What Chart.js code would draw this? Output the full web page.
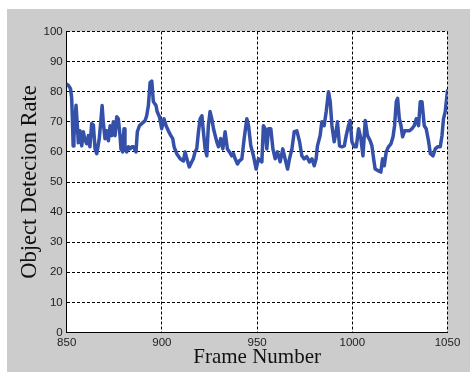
<!DOCTYPE html>
<html>
<head>
<meta charset="utf-8">
<script src="https://cdn.jsdelivr.net/npm/chart.js@4.4.0/dist/chart.umd.min.js"></script>
<style>
  html, body { margin: 0; padding: 0; background: #ffffff; }
  #wrap { position: absolute; left: 0; top: 0; width: 470px; height: 372px; }
</style>
</head>
<body>
<div id="wrap"><canvas id="c" width="470" height="372"></canvas></div>
<script>
const frames = [850.0,851.0,852.0,852.6,853.0,853.4,853.8,854.9,855.6,856.1,857.0,857.9,858.7,859.6,860.5,861.4,862.2,863.1,864.0,864.9,865.8,867.1,867.9,868.6,869.2,870.1,871.0,871.9,872.8,873.7,874.5,875.4,876.3,877.1,878.0,878.5,879.4,880.1,880.6,881.5,882.4,883.3,884.2,885.0,886.4,887.1,888.2,889.4,891.2,892.0,892.9,893.8,894.7,895.5,896.9,897.5,898.7,899.9,901.1,902.2,903.4,904.7,905.7,906.4,907.8,909.6,911.3,912.2,913.1,914.4,915.7,916.5,917.4,918.3,919.2,920.1,921.0,921.8,922.7,923.6,924.4,925.3,926.2,927.1,928.8,929.7,930.9,932.0,933.2,934.4,935.5,936.7,937.6,938.5,939.7,940.7,942.0,943.2,944.6,945.5,946.7,948.1,949.5,950.7,952.5,953.3,954.2,955.1,956.0,957.2,958.3,959.5,960.7,962.1,963.5,964.7,966.0,967.0,968.3,969.5,970.9,972.3,973.5,974.7,976.1,977.5,978.8,980.0,981.0,981.7,983.1,984.0,985.2,986.3,987.5,988.4,989.3,990.5,991.5,992.2,993.3,994.5,995.8,996.8,998.0,998.9,999.8,1001.0,1002.1,1003.3,1004.5,1005.6,1006.8,1008.0,1009.4,1010.3,1011.2,1012.0,1013.8,1015.0,1015.9,1016.8,1017.8,1019.0,1020.3,1021.4,1022.2,1023.1,1023.8,1024.7,1025.6,1026.4,1027.5,1028.7,1030.1,1031.3,1032.5,1033.6,1034.8,1035.7,1036.6,1037.1,1037.8,1038.8,1040.1,1041.0,1042.4,1043.6,1044.8,1046.2,1047.1,1047.9,1048.8,1050.0];
const rates = [82.5,82,81,78,71,62,65,75.5,68.7,63,67,62,66.7,64,62.7,65.4,61.7,69.4,69,61,59.4,64.4,70,75.4,70,64.4,67,63.7,68.7,65.4,70,65.4,71.7,71,65.4,61,60,67.7,61,60,61.7,61,61.7,61.7,60,66.7,68.7,69.4,70.4,72,75.4,83,83.5,76.7,75.4,73.4,71.7,67.7,71,68.7,67,65.4,64.4,61.7,59.4,57.7,57,60,57.7,55,56.7,57.7,60,61,66.7,71,72,66.7,61,58.7,68.7,73.4,71,67.7,63.4,61.7,64.4,61,66.7,61,60,58.7,59.4,57.7,56,57,57.7,64.4,71,68.7,62,58.7,54.3,57.7,56.7,68.7,67.7,61,67.7,67.7,61,57.7,60,56.7,61,57.7,54.3,57.7,61,66.7,67,63.4,58.7,57.7,58.4,56.7,57.7,55.4,57.7,62,65.4,70,68.7,73.4,80,76.7,68.7,63.4,66.7,70,62,61.7,62,65.4,68.7,70.4,63.4,61.7,61.7,67.7,64.4,58.7,70.4,65.4,63.7,62,57.7,54.3,53.7,53.3,57.7,55.4,60,61.7,62.7,65,68.7,76.7,77.8,71,68.7,65,67,67,67,67.7,68.7,71,68.7,76.7,76.7,73.4,68.7,67.7,63.4,59.4,58.7,61,61.7,61.7,65.4,71,73.4,80.4];
const xTicks = [850, 900, 950, 1000, 1050];
const yTicks = [0, 10, 20, 30, 40, 50, 60, 70, 80, 90, 100];
const xTitle = 'Frame Number';
const yTitle = 'Object Detecion Rate';

const points = frames.map((f, i) => ({ x: f, y: rates[i] }));

const bgPlugin = {
  id: 'figbg',
  beforeDraw(chart) {
    const ctx = chart.ctx;
    ctx.save();
    ctx.fillStyle = '#ffffff';
    ctx.fillRect(0, 0, chart.width, chart.height);
    ctx.fillStyle = '#cccccc';
    ctx.fillRect(7, 9, chart.width - 7, chart.height - 9);
    const a = chart.chartArea;
    ctx.fillStyle = '#ffffff';
    ctx.fillRect(a.left, a.top, a.right - a.left, a.bottom - a.top);
    ctx.restore();
  }
};

const gridCommon = {
  color: '#000000',
  lineWidth: 1,
  drawTicks: false
};

new Chart(document.getElementById('c'), {
  type: 'line',
  data: {
    datasets: [{
      data: points,
      borderColor: '#3550a8',
      borderWidth: 3.5,
      borderJoinStyle: 'round',
      borderCapStyle: 'round',
      pointRadius: 0,
      tension: 0,
      fill: false
    }]
  },
  options: {
    responsive: false,
    animation: false,
    layout: { padding: { left: 17, top: 31.5, right: 22.5, bottom: 0 } },
    plugins: { legend: { display: false }, tooltip: { enabled: false } },
    scales: {
      x: {
        type: 'linear',
        min: 850, max: 1050,
        afterBuildTicks(s) { s.ticks = xTicks.map(v => ({ value: v })); },
        afterFit(s) { s.height = 39.5; },
        grid: gridCommon,
        border: { display: true, color: '#000000', width: 1, dash: [3, 2] },
        ticks: {
          padding: 3,
          color: '#222222',
          font: { family: 'Liberation Sans, Arial, sans-serif', size: 11.5 },
          maxRotation: 0,
          autoSkip: false,
          callback: (v) => String(v)
        },
        title: {
          display: true,
          text: xTitle,
          color: '#111111',
          font: { family: 'Liberation Serif, Times New Roman, serif', size: 21 },
          padding: { top: 0, bottom: 2 }
        }
      },
      y: {
        type: 'linear',
        min: 0, max: 100,
        afterBuildTicks(s) { s.ticks = yTicks.map(v => ({ value: v })); },
        afterFit(s) { s.width = 49.7; },
        grid: gridCommon,
        border: { display: true, color: '#000000', width: 1, dash: [3, 2] },
        ticks: {
          padding: 4,
          color: '#222222',
          font: { family: 'Liberation Sans, Arial, sans-serif', size: 11.5 },
          autoSkip: false,
          callback: (v) => String(v)
        },
        title: {
          display: true,
          text: yTitle,
          color: '#111111',
          font: { family: 'Liberation Serif, Times New Roman, serif', size: 22.5 },
          padding: { top: 0, bottom: 0 }
        }
      }
    }
  },
  plugins: [bgPlugin]
});
</script>
</body>
</html>
